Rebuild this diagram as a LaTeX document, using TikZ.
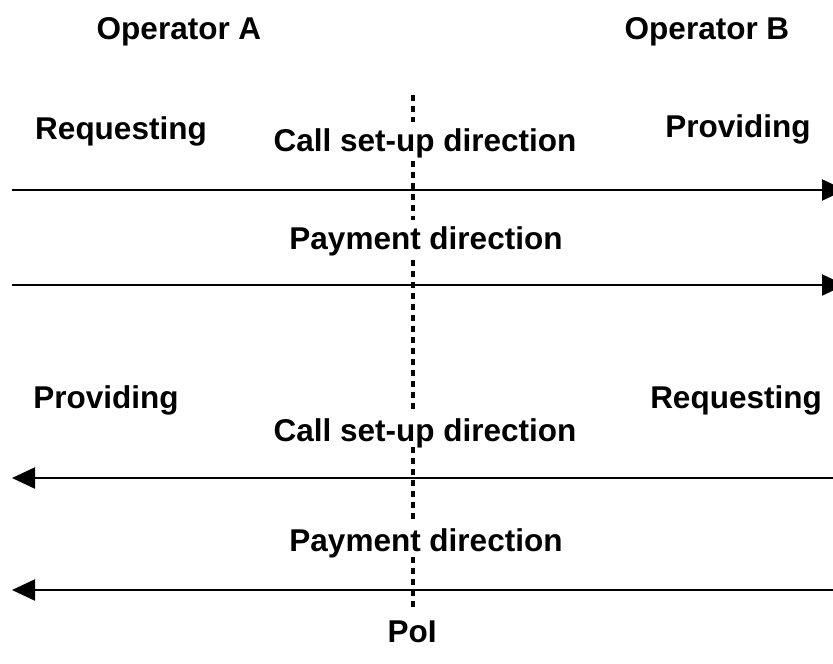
\documentclass[tikz,border=0pt]{standalone}
\usepackage{fontspec}
\setmainfont{Liberation Sans}
\usetikzlibrary{arrows.meta}
\tikzset{
  lbl/.style={font=\fontsize{31.5}{37}\selectfont\bfseries, anchor=base, inner sep=0pt, text depth=0pt},
  cover/.style={lbl, fill=white, inner ysep=6pt, inner xsep=2pt},
  flow/.style={line width=2.2pt, -{Triangle[length=23pt,width=21pt]}},
  poi/.style={line width=3.2pt, dash pattern=on 6pt off 5pt}
}
\begin{document}
\begin{tikzpicture}[x=1pt,y=-1pt]
\useasboundingbox (0,0) rectangle (833,664);
\clip (0,0) rectangle (833,664);
% point of interconnection
\coordinate (poitop) at (413,95);
\coordinate (poibot) at (413,607);
\draw[poi] (poitop) -- (poibot);
% connectors
\coordinate (a1s) at (12,190);   \coordinate (a1e) at (845,190);
\coordinate (a2s) at (12,285);   \coordinate (a2e) at (845,285);
\coordinate (a3s) at (833,478);  \coordinate (a3e) at (12,478);
\coordinate (a4s) at (833,590);  \coordinate (a4e) at (12,590);
\draw[flow] (a1s) -- (a1e);
\draw[flow] (a2s) -- (a2e);
\draw[flow] (a3s) -- (a3e);
\draw[flow] (a4s) -- (a4e);
% labels
\node[lbl] (opa) at (179,39) {Operator A};
\node[lbl] (opb) at (707,39) {Operator B};
\node[lbl] (req1) at (121,139) {Requesting};
\node[lbl] (prov1) at (738,137) {Providing};
\node[cover] (csu1) at (425,151) {Call set-up direction};
\node[cover] (pay1) at (426,249) {Payment direction};
\node[lbl] (prov2) at (106,408) {Providing};
\node[lbl] (req2) at (736,408) {Requesting};
\node[cover] (csu2) at (425,441) {Call set-up direction};
\node[cover] (pay2) at (426,551) {Payment direction};
\node[lbl] (poilbl) at (412,642) {PoI};
\end{tikzpicture}
\end{document}
